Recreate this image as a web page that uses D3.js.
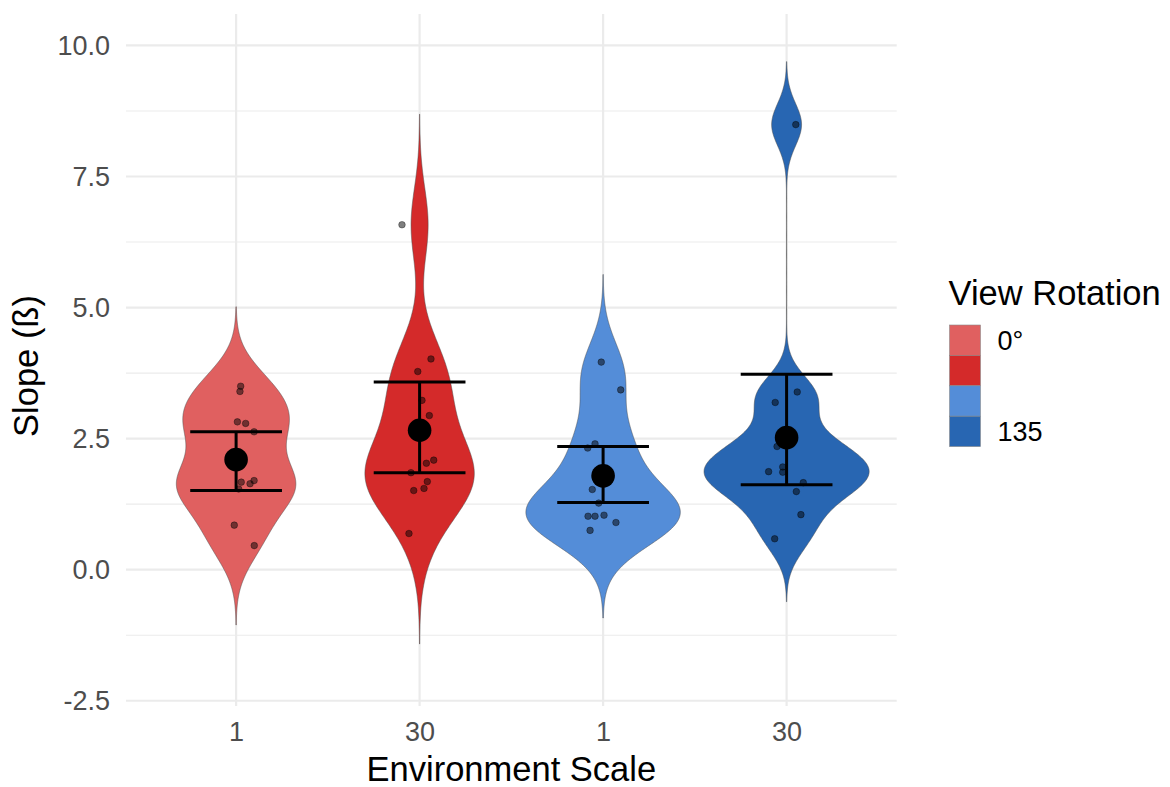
<!DOCTYPE html>
<html>
<head>
<meta charset="utf-8">
<script src="https://cdn.jsdelivr.net/npm/d3@7/dist/d3.min.js"></script>
<style>
  body { margin: 0; background: #fff; }
  text { font-family: "Liberation Sans", Arial, sans-serif; }
</style>
</head>
<body>
<svg id="chart" width="1170" height="787"></svg>
<script>
// ---- data -------------------------------------------------------------
// Conditions along x: environment scale within each view rotation
const groupIds   = [0, 1, 2, 3];
const scaleLabels = ["1", "30", "1", "30"];
const rotationOf  = ["0°", "0°", "135", "135"];
const fillColors  = ["#E06060", "#D42A2A", "#548DD8", "#2866B2"];

// Individual slopes per condition
const slopesRot0Scale1   = [3.50, 3.40, 2.82, 2.79, 2.63, 1.67, 1.64, 1.70, 1.54, 0.85, 0.46];
const slopesRot0Scale30  = [6.58, 4.02, 3.78, 3.23, 2.94, 2.09, 2.03, 1.85, 1.68, 1.55, 1.51, 0.69];
const slopesRot135Scale1 = [3.96, 3.43, 2.40, 2.32, 1.53, 1.27, 1.02, 1.02, 1.04, 0.90, 0.75];
const slopesRot135Scale30= [8.49, 3.39, 3.19, 2.40, 2.35, 1.96, 1.86, 1.87, 1.66, 1.49, 1.05, 0.59];

// Horizontal jitter of each point (fraction of category spacing)
const jitterRot0Scale1   = [0.025, 0.021, 0.007, 0.052, 0.098, 0.028, 0.076, 0.098, 0.014, -0.010, 0.099];
const jitterRot0Scale30  = [-0.096, 0.062, -0.010, 0.013, 0.053, 0.077, 0.037, -0.047, 0.042, 0.024, -0.032, -0.058];
const jitterRot135Scale1 = [-0.010, 0.096, -0.044, -0.084, -0.059, -0.024, -0.082, -0.044, 0.005, 0.070, -0.071];
const jitterRot135Scale30= [0.050, 0.058, -0.062, 0.004, -0.052, -0.021, -0.021, -0.098, 0.091, 0.053, 0.078, -0.065];

// Summary: mean with interval
const groupMeans = [2.10, 2.66, 1.79, 2.52];
const ciLower    = [1.51, 1.85, 1.28, 1.62];
const ciUpper    = [2.63, 3.58, 2.35, 3.73];

const yTicks = [-2.5, 0, 2.5, 5, 7.5, 10];
const legendLabels = ["0°", "", "", "135"];

const slopes  = [slopesRot0Scale1, slopesRot0Scale30, slopesRot135Scale1, slopesRot135Scale30];
const jitters = [jitterRot0Scale1, jitterRot0Scale30, jitterRot135Scale1, jitterRot135Scale30];

// ---- layout -----------------------------------------------------------
const svg = d3.select("#chart");
const panel = { left: 126, right: 896.7, top: 14, bottom: 706 };

const x = d3.scalePoint().domain(groupIds).range([panel.left, panel.right]).padding(0.6);
const step = x.step();
const y = d3.scaleLinear().domain([-2.6, 10.6]).range([panel.bottom, panel.top]);

// ---- grid -------------------------------------------------------------
const grid = svg.append("g");
const minorTicks = d3.pairs(yTicks).map(([a, b]) => (a + b) / 2);
grid.selectAll("line.minor").data(minorTicks).join("line")
  .attr("x1", panel.left).attr("x2", panel.right)
  .attr("y1", d => y(d)).attr("y2", d => y(d))
  .attr("stroke", "#EBEBEB").attr("stroke-width", 1.1);
grid.selectAll("line.major").data(yTicks).join("line")
  .attr("x1", panel.left).attr("x2", panel.right)
  .attr("y1", d => y(d)).attr("y2", d => y(d))
  .attr("stroke", "#EBEBEB").attr("stroke-width", 2.2);
grid.selectAll("line.vmajor").data(groupIds).join("line")
  .attr("x1", d => x(d)).attr("x2", d => x(d))
  .attr("y1", panel.top).attr("y2", panel.bottom)
  .attr("stroke", "#EBEBEB").attr("stroke-width", 2.2);

// ---- violins (gaussian KDE, nrd0 bandwidth, full tails) -----------------
function bwNrd0(v) {
  const sorted = v.slice().sort(d3.ascending);
  const sd = d3.deviation(sorted);
  const iqr = d3.quantileSorted(sorted, 0.75) - d3.quantileSorted(sorted, 0.25);
  let lo = Math.min(sd, iqr / 1.34);
  if (!(lo > 0)) lo = sd || 1;
  return 0.9 * lo * Math.pow(sorted.length, -0.2);
}
function kde(v) {
  const bw = bwNrd0(v);
  const lo = d3.min(v) - 3 * bw, hi = d3.max(v) + 3 * bw;
  const n = 512;
  return d3.range(n).map(i => {
    const t = lo + (hi - lo) * i / (n - 1);
    const dens = d3.mean(v, s => Math.exp(-0.5 * ((t - s) / bw) ** 2)) / (bw * Math.sqrt(2 * Math.PI));
    return [t, dens];
  });
}
const densities = slopes.map(kde);
const maxDensity = d3.max(densities, ds => d3.max(ds, d => d[1]));
const halfWidth = d3.scaleLinear().domain([0, maxDensity]).range([0, 0.45 * step]);

const violins = svg.append("g");
groupIds.forEach(g => {
  const cx = x(g);
  const area = d3.area()
    .x0(d => cx - halfWidth(d[1]))
    .x1(d => cx + halfWidth(d[1]))
    .y(d => y(d[0]));
  violins.append("path")
    .attr("d", area(densities[g]))
    .attr("fill", fillColors[g])
    .attr("stroke", "#4a4a4a")
    .attr("stroke-width", 0.5);
});

// ---- individual points ------------------------------------------------
const pts = svg.append("g");
groupIds.forEach(g => {
  pts.selectAll(null).data(slopes[g].map((v, i) => ({ v, j: jitters[g][i] }))).join("circle")
    .attr("cx", d => x(g) + d.j * step)
    .attr("cy", d => y(d.v))
    .attr("r", 3.3)
    .attr("fill", "#000").attr("fill-opacity", 0.5)
    .attr("stroke", "#000").attr("stroke-opacity", 0.6).attr("stroke-width", 0.6);
});

// ---- error bars and means ----------------------------------------------
const eb = svg.append("g").attr("stroke", "#000").attr("stroke-width", 3);
groupIds.forEach(g => {
  const cx = x(g), hw = 0.25 * step;
  eb.append("line").attr("x1", cx).attr("x2", cx).attr("y1", y(ciLower[g])).attr("y2", y(ciUpper[g]));
  eb.append("line").attr("x1", cx - hw).attr("x2", cx + hw).attr("y1", y(ciLower[g])).attr("y2", y(ciLower[g]));
  eb.append("line").attr("x1", cx - hw).attr("x2", cx + hw).attr("y1", y(ciUpper[g])).attr("y2", y(ciUpper[g]));
});
svg.append("g").selectAll("circle").data(groupIds).join("circle")
  .attr("cx", g => x(g)).attr("cy", g => y(groupMeans[g]))
  .attr("r", 11.8).attr("fill", "#000");

// ---- axes -------------------------------------------------------------
const xAxis = svg.append("g")
  .attr("transform", `translate(0,${panel.bottom})`)
  .call(d3.axisBottom(x).tickSize(0).tickPadding(16).tickFormat(g => scaleLabels[g]));
xAxis.select(".domain").remove();
xAxis.selectAll("text").attr("font-size", 27).attr("fill", "#4D4D4D")
  .attr("font-family", "Liberation Sans, Arial, sans-serif");

const yAxis = svg.append("g")
  .attr("transform", `translate(${panel.left},0)`)
  .call(d3.axisLeft(y).tickValues(yTicks).tickSize(0).tickPadding(16).tickFormat(d => d.toFixed(1)));
yAxis.select(".domain").remove();
yAxis.selectAll("text").attr("font-size", 27).attr("fill", "#4D4D4D")
  .attr("font-family", "Liberation Sans, Arial, sans-serif");

svg.append("text")
  .attr("x", (panel.left + panel.right) / 2).attr("y", 781)
  .attr("text-anchor", "middle").attr("font-size", 34.5).attr("fill", "#000")
  .text("Environment Scale");

svg.append("text")
  .attr("transform", `translate(38,${(panel.top + panel.bottom) / 2 + 6}) rotate(-90)`)
  .attr("text-anchor", "middle").attr("font-size", 34.5).attr("fill", "#000")
  .text("Slope (ß)");

// ---- legend -----------------------------------------------------------
const legend = svg.append("g").attr("transform", "translate(949.5,325)");
legend.append("text").attr("x", -1).attr("y", -20)
  .attr("font-size", 34.5).attr("fill", "#000").text("View Rotation");
const keyH = 30.4, keyW = 31;
legend.selectAll("rect").data(groupIds).join("rect")
  .attr("x", 0).attr("y", g => g * keyH)
  .attr("width", keyW).attr("height", keyH)
  .attr("fill", g => fillColors[g])
  .attr("stroke", "#8a8a8a").attr("stroke-width", 0.6);
legend.selectAll("text.lab").data(groupIds).join("text")
  .attr("class", "lab")
  .attr("x", keyW + 17).attr("y", g => g * keyH + keyH / 2)
  .attr("dy", "0.35em")
  .attr("font-size", 27).attr("fill", "#000")
  .text(g => legendLabels[g]);
</script>
</body>
</html>
